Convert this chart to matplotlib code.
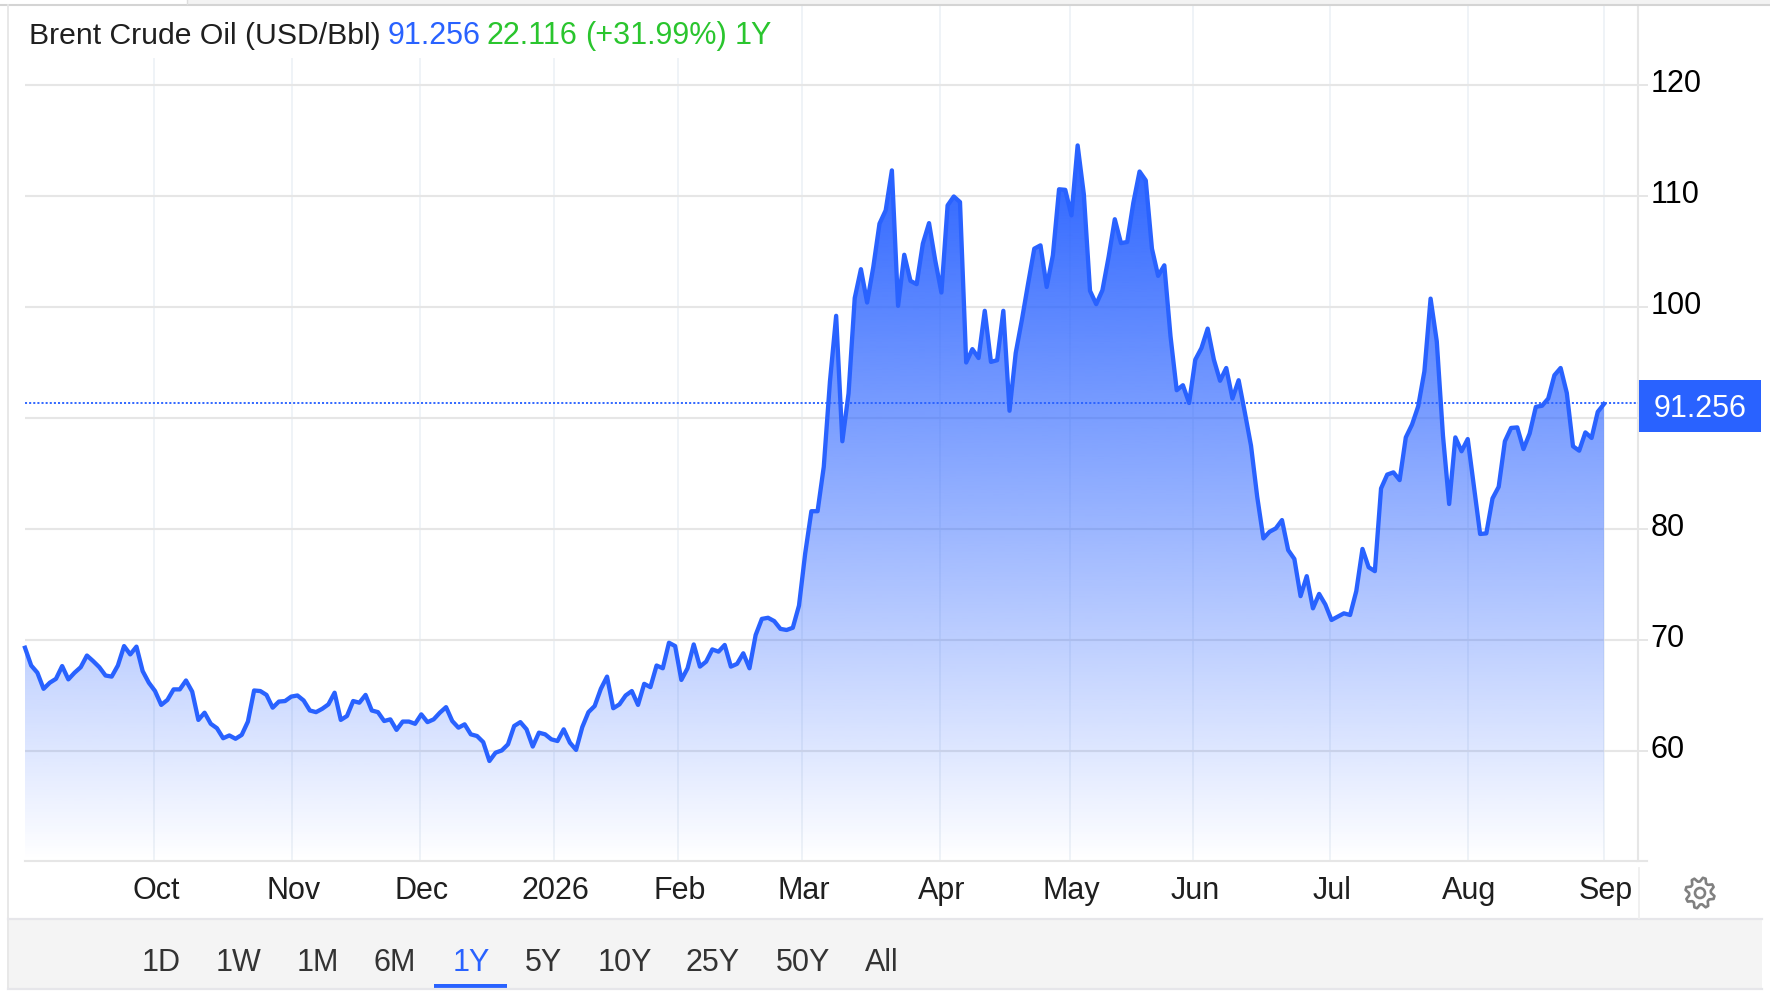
import numpy as np
import matplotlib
matplotlib.use("Agg")
import matplotlib.pyplot as plt
from matplotlib.patches import Rectangle, Polygon, Circle
from matplotlib.transforms import ScaledTranslation
from matplotlib.colors import to_rgb

plt.rcParams['font.family'] = ['Liberation Sans', 'DejaVu Sans']

# ---------- data ----------
prices_sep_oct = [69.3, 67.7, 67.05, 65.6, 66.15, 66.5, 67.65, 66.45, 67.05, 67.55, 68.6, 68.1, 67.55,
                  66.8, 66.7, 67.7, 69.45, 68.7, 69.4, 67.2, 66.15, 65.4, 64.15, 64.6, 65.55, 65.55,
                  66.35, 65.35, 62.8, 63.45, 62.45, 62.05, 61.15, 61.4, 61.1, 61.45, 62.65, 65.45,
                  65.4, 65.05, 63.9, 64.45, 64.5, 64.9, 65.0, 64.55, 63.65, 63.5, 63.8, 64.2, 65.25,
                  62.8, 63.15, 64.5, 64.35, 65.05, 63.65, 63.5, 62.7, 62.85, 61.9, 62.65, 62.65, 62.45]
prices_dec_feb = [63.3, 62.6, 62.85, 63.45, 63.95, 62.7, 62.1, 62.4, 61.5, 61.35, 60.8, 59.1, 59.85,
                  60.05, 60.6, 62.25, 62.6, 61.95, 60.4, 61.65, 61.5, 61.05, 60.9, 61.95, 60.75, 60.1,
                  62.15, 63.5, 64.05, 65.6, 66.7, 63.85, 64.2, 65.0, 65.4, 64.15, 66.05, 65.75, 67.7,
                  67.45, 69.75, 69.45, 66.4, 67.45, 69.6, 67.6, 68.05, 69.15, 68.95, 69.55, 67.6,
                  67.85, 68.8, 67.45, 70.45, 71.9, 72.0, 71.7, 71.0, 70.9]
prices_mar_may = [71.1, 73.1, 77.8, 81.6, 81.6, 85.6, 93.3, 99.2, 87.9, 92.2, 100.8, 103.4, 100.4,
                  103.6, 107.5, 108.7, 112.3, 100.1, 104.7, 102.35, 102.05, 105.7, 107.55, 104.2,
                  101.3, 109.15, 109.95, 109.45, 95.0, 96.2, 95.4, 99.65, 95.05, 95.2, 99.65, 90.65,
                  95.85, 98.85, 102.1, 105.25, 105.55, 101.8, 104.65, 110.6, 110.55, 108.25, 114.55,
                  110.15, 101.45, 100.25, 101.5, 104.5, 107.9, 105.75, 105.85, 109.4, 112.2, 111.4,
                  105.25, 102.8]
prices_may_aug = [103.75, 97.35, 92.5, 92.95, 91.35, 95.25, 96.3, 98.05, 95.25, 93.35, 94.5, 91.75,
                  93.4, 90.5, 87.5, 82.9, 79.15, 79.75, 80.05, 80.8, 78.1, 77.3, 73.95, 75.75, 72.85,
                  74.15, 73.2, 71.8, 72.1, 72.4, 72.25, 74.4, 78.2, 76.55, 76.2, 83.65, 84.9, 85.1,
                  84.4, 88.25, 89.4, 91.05, 94.2, 100.75, 96.9, 88.4, 82.25, 88.25, 87.0, 88.1, 83.8,
                  79.55, 79.6, 82.75, 83.8, 87.9, 89.1, 89.15, 87.2, 88.6, 91.0, 91.1, 91.75, 93.85,
                  94.5, 92.25, 87.45, 87.05, 88.7, 88.2, 90.55, 91.256]
prices = prices_sep_oct + prices_dec_feb + prices_mar_may + prices_may_aug

month_labels = ['Oct', 'Nov', 'Dec', '2026', 'Feb', 'Mar', 'Apr', 'May', 'Jun', 'Jul', 'Aug', 'Sep']
month_positions = [20.9, 43.1, 63.8, 85.4, 105.5, 125.5, 147.8, 168.8, 188.7, 210.8, 233.0, 255.0]
price_ticks = [60, 70, 80, 90, 100, 110, 120]
price_tick_labels = ['60', '70', '80', '', '100', '110', '120']
last_price = 91.256
range_labels = ['1D', '1W', '1M', '6M', '1Y', '5Y', '10Y', '25Y', '50Y', 'All']

# ---------- style ----------
W, H = 1770, 992
BLUE = '#2962ff'
GREY = '#e6e6e6'
VGRID = '#eef2f7'
FS = 22
DARK = '#1f1f1f'
GREEN = '#2ac52e'

x = np.arange(len(prices))
STEP = 6.192
LEFT, RIGHT, TOP, BOTTOM = 25, 1638, 5, 861

fig = plt.figure(figsize=(W / 100, H / 100), dpi=100, facecolor='white')
ax = fig.add_axes([LEFT / W, 1 - BOTTOM / H, (RIGHT - LEFT) / W, (BOTTOM - TOP) / H])
ax.patch.set_alpha(0)
ax.set_xlim(0, (RIGHT - LEFT) / STEP)
ax.set_ylim(50.09, 127.2)

for s in ['left', 'top']:
    ax.spines[s].set_visible(False)
for s in ['right', 'bottom']:
    ax.spines[s].set_color(GREY)
    ax.spines[s].set_linewidth(1.5)

ax.set_axisbelow(True)
ax.xaxis.grid(True, color=VGRID, lw=1.3)
ax.yaxis.grid(True, color=GREY, lw=1.5)
ax.set_xticks(month_positions)
ax.set_xticklabels(month_labels, fontsize=FS, color=DARK)
ax.tick_params(axis='x', length=0, pad=11)
ax.yaxis.tick_right()
ax.set_yticks(price_ticks)
ax.set_yticklabels(price_tick_labels, fontsize=FS, color='black')
ax.tick_params(axis='y', length=7.2, width=1.4, color=GREY, pad=2.0)
offset = ScaledTranslation(0, 4 / 100, fig.dpi_scale_trans)
for lab in ax.get_yticklabels():
    lab.set_transform(lab.get_transform() + offset)
offset_x = ScaledTranslation(1.5 / 100, 0, fig.dpi_scale_trans)
for lab in ax.get_xticklabels():
    lab.set_transform(lab.get_transform() + offset_x)

# gradient area
rgb = to_rgb(BLUE)
top_val, bot_val = max(prices), 50.09
grad = np.zeros((256, 1, 4))
grad[..., 0], grad[..., 1], grad[..., 2] = rgb
grad[..., 3] = np.linspace(1.0, 0.0, 256)[:, None]
poly = ax.fill_between(x, prices, bot_val, facecolor='none', edgecolor='none')
im = ax.imshow(grad, extent=(x[0], x[-1], bot_val, top_val), aspect='auto', origin='upper',
               interpolation='bilinear', zorder=2)
im.set_clip_path(poly.get_paths()[0], transform=ax.transData)
ax.set_xlim(0, (RIGHT - LEFT) / STEP)
ax.set_ylim(50.09, 127.2)

ax.plot(x, prices, color=BLUE, lw=3.1, solid_joinstyle='round', zorder=3, clip_on=False)
last_line = ax.axhline(last_price, color=BLUE, lw=1.35, dashes=(1.1, 1.1), zorder=4)
last_line.set_transform(last_line.get_transform() + ScaledTranslation(0, 1.5 / 100, fig.dpi_scale_trans))

# ---------- page furniture, in pixels ----------
ov = fig.add_axes([0, 0, 1, 1], zorder=5)
ov.set_xlim(0, W)
ov.set_ylim(H, 0)
ov.axis('off')

# title mask over the vertical grid
ov.add_patch(Rectangle((LEFT - 1, 6), 775, 52, fc='white', ec='none'))
# top rule and tab strip
ov.add_patch(Rectangle((187, 0), W - 187, 4, fc='#f3f3f3', ec='none'))
ov.plot([0, W], [5, 5], color='#d4d4d4', lw=1.5)
ov.plot([187, 187], [0, 4], color='#dddddd', lw=1)
# outer frame
ov.plot([8, 8], [5, 989], color=GREY, lw=1.3)
# bottom panel
ov.add_patch(Rectangle((9, 919), 1753, 69, fc='#f4f4f4', ec='none'))
ov.plot([8, 1762], [919, 919], color='#e6e6ea', lw=1.6)
ov.plot([8, 1762], [989, 989], color='#e6e6ea', lw=1.6)
# axis tails
ov.plot([RIGHT, 1647], [BOTTOM, BOTTOM], color=GREY, lw=1.5)
ov.plot([1639, 1639], [868, 918], color='#efefef', lw=1.3)

# title
title_y = 44
ov.text(29, title_y, 'Brent Crude Oil (USD/Bbl)', fontsize=21.7, color=DARK, va='baseline')
ov.text(388, title_y, '91.256', fontsize=FS, color=BLUE, va='baseline')
ov.text(487, title_y, '22.116', fontsize=FS, color=GREEN, va='baseline')
ov.text(585, title_y, '(+31.99%)', fontsize=FS, color=GREEN, va='baseline')
ov.text(735, title_y, '1Y', fontsize=FS, color=GREEN, va='baseline')

# last price box
ov.add_patch(Rectangle((1639, 380), 122, 52, fc=BLUE, ec='none'))
ov.text(1700, 417, f'{last_price:.3f}', fontsize=FS, color='white', ha='center', va='baseline')

# range buttons
range_x = [161, 239, 318, 395, 471, 543, 625, 713, 803, 882]
for lab, cx in zip(range_labels, range_x):
    ov.text(cx, 971, lab, fontsize=FS, ha='center', va='baseline',
            color=BLUE if lab == '1Y' else '#333333')
ov.add_patch(Rectangle((434, 984), 73, 4, fc=BLUE, ec='none'))

# settings gear
gx, gy, teeth = 1700, 893, 8
angles = np.linspace(0, 2 * np.pi, teeth * 4, endpoint=False) + np.pi / 8 - np.pi / 16
radii = np.tile([15.5, 15.5, 11.5, 11.5], teeth)
gear = np.column_stack([gx + 0.95 * radii * np.cos(angles), gy + radii * np.sin(angles)])
ov.add_patch(Polygon(gear, closed=True, fc='white', ec='#808080', lw=1.9, joinstyle='round'))
ov.add_patch(Circle((gx, gy), 5, fc='white', ec='#808080', lw=1.9))

fig.savefig('out.png', dpi=100)
